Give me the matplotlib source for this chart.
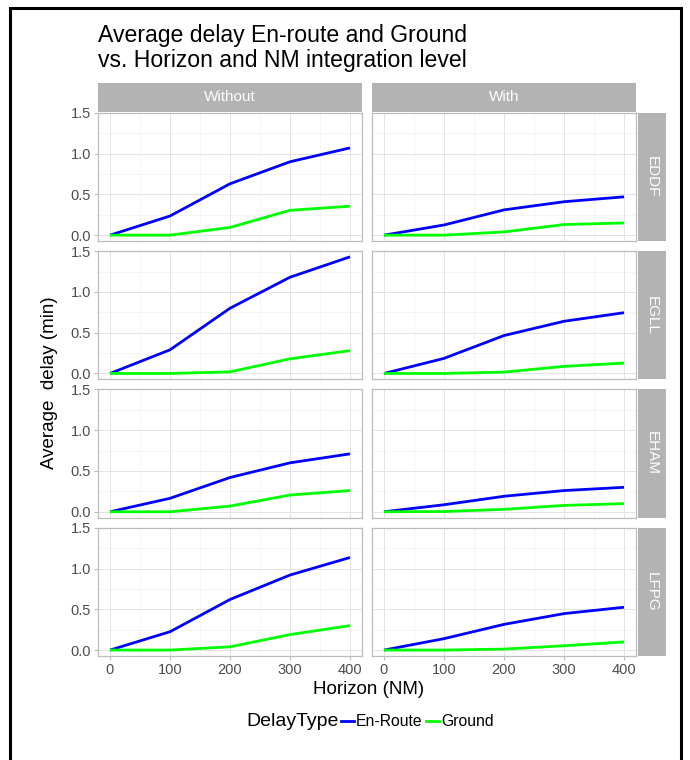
import matplotlib.pyplot as plt
from matplotlib.lines import Line2D
from matplotlib.patches import Rectangle

plt.rcParams['font.family'] = ['Liberation Sans', 'DejaVu Sans']

# --- data: average delay (min) vs. horizon (NM) ---
horizon = [0, 100, 200, 300, 400]
airports = ['EDDF', 'EGLL', 'EHAM', 'LFPG']
levels = ['Without', 'With']

eddf_enroute_without = [0.0, 0.235, 0.63, 0.90, 1.07]
eddf_ground_without = [0.0, 0.0, 0.095, 0.305, 0.355]
eddf_enroute_with = [0.0, 0.125, 0.31, 0.41, 0.47]
eddf_ground_with = [0.0, 0.0, 0.04, 0.13, 0.15]

egll_enroute_without = [0.0, 0.29, 0.80, 1.18, 1.43]
egll_ground_without = [0.0, 0.0, 0.02, 0.18, 0.28]
egll_enroute_with = [0.0, 0.185, 0.465, 0.64, 0.745]
egll_ground_with = [0.0, 0.0, 0.017, 0.087, 0.128]

eham_enroute_without = [0.0, 0.165, 0.42, 0.60, 0.71]
eham_ground_without = [0.0, 0.0, 0.07, 0.205, 0.26]
eham_enroute_with = [0.0, 0.086, 0.19, 0.26, 0.30]
eham_ground_with = [0.0, 0.003, 0.03, 0.078, 0.10]

lfpg_enroute_without = [0.0, 0.225, 0.62, 0.92, 1.135]
lfpg_ground_without = [0.0, 0.0, 0.04, 0.19, 0.30]
lfpg_enroute_with = [0.0, 0.14, 0.315, 0.447, 0.525]
lfpg_ground_with = [0.0, 0.0, 0.012, 0.053, 0.10]

delays = {
    ('EDDF', 'Without'): (eddf_enroute_without, eddf_ground_without),
    ('EDDF', 'With'): (eddf_enroute_with, eddf_ground_with),
    ('EGLL', 'Without'): (egll_enroute_without, egll_ground_without),
    ('EGLL', 'With'): (egll_enroute_with, egll_ground_with),
    ('EHAM', 'Without'): (eham_enroute_without, eham_ground_without),
    ('EHAM', 'With'): (eham_enroute_with, eham_ground_with),
    ('LFPG', 'Without'): (lfpg_enroute_without, lfpg_ground_without),
    ('LFPG', 'With'): (lfpg_enroute_with, lfpg_ground_with),
}

ENROUTE_COLOR = '#0000FF'
GROUND_COLOR = '#00FF00'
STRIP_COLOR = '#B3B3B3'
BORDER_COLOR = '#BDBDBD'
TEXT_GREY = '#4D4D4D'

W, H = 690, 760
fig = plt.figure(figsize=(W / 100, H / 100), dpi=100)


def px_axes(left, top, right, bottom, **kw):
    return fig.add_axes([left / W, 1 - bottom / H, (right - left) / W, (bottom - top) / H], **kw)


def fx(x):
    return x / W


def fy(y):
    return 1 - y / H


# shared scales with ggplot-like 5% expansion
ymax = max(max(v) for pair in delays.values() for v in pair)
ypad = 0.05 * ymax
xpad = 0.05 * (max(horizon) - min(horizon))

col_x = [(98, 362), (372, 636)]
row_top0, row_h, row_step = 112.7, 128.3, 138.3

for r, ap in enumerate(airports):
    top = row_top0 + r * row_step
    bottom = top + row_h
    for c, lvl in enumerate(levels):
        left, right = col_x[c]
        ax = px_axes(left, top, right, bottom)
        enroute, ground = delays[(ap, lvl)]
        ax.plot(horizon, enroute, color=ENROUTE_COLOR, lw=2.0, solid_capstyle='butt', zorder=3)
        ax.plot(horizon, ground, color=GROUND_COLOR, lw=2.0, solid_capstyle='butt', zorder=3)
        ax.set_xlim(min(horizon) - xpad, max(horizon) + xpad)
        ax.set_ylim(-ypad, ymax + ypad)
        ax.set_xticks([0, 100, 200, 300, 400])
        ax.set_xticks([50, 150, 250, 350], minor=True)
        ax.set_yticks([0, 0.5, 1.0, 1.5])
        ax.set_yticks([0.25, 0.75, 1.25], minor=True)
        ax.grid(which='major', color='#E3E3E3', lw=0.7)
        ax.grid(which='minor', color='#F1F1F1', lw=0.5)
        ax.set_axisbelow(True)
        for sp in ax.spines.values():
            sp.set_color(BORDER_COLOR)
            sp.set_linewidth(0.9)
        ax.tick_params(which='minor', length=0)
        ax.tick_params(which='major', color=BORDER_COLOR, length=3, width=0.8,
                       labelsize=10.5, labelcolor=TEXT_GREY, pad=2)
        if c == 0:
            ax.set_yticklabels(['0.0', '0.5', '1.0', '1.5'])
        else:
            ax.tick_params(axis='y', left=False, labelleft=False)
        if r != len(airports) - 1:
            ax.tick_params(axis='x', bottom=False, labelbottom=False)

    # airport strip on the right
    sax = px_axes(637.7, top, 666, bottom)
    sax.set_facecolor(STRIP_COLOR)
    sax.set_xticks([])
    sax.set_yticks([])
    for sp in sax.spines.values():
        sp.set_visible(False)
    sax.text(0.5, 0.5, ap, rotation=-90, ha='center', va='center', color='white',
             fontsize=11, transform=sax.transAxes)

# level strips on top
for c, lvl in enumerate(levels):
    left, right = col_x[c]
    sax = px_axes(left, 82.5, right, 111.5)
    sax.set_facecolor(STRIP_COLOR)
    sax.set_xticks([])
    sax.set_yticks([])
    for sp in sax.spines.values():
        sp.set_visible(False)
    sax.text(0.5, 0.5, lvl, ha='center', va='center', color='white', fontsize=11,
             transform=sax.transAxes)

# titles and axis labels
fig.text(fx(98), fy(24), 'Average delay En-route and Ground\nvs. Horizon and NM integration level',
         ha='left', va='top', fontsize=16.6, linespacing=1.12, color='black')
fig.text(fx(50), fy(383), 'Average  delay (min)', rotation=90, ha='center', va='center',
         fontsize=13.5, color='black')
fig.text(fx(369), fy(690), 'Horizon (NM)', ha='center', va='center', fontsize=13.5, color='black')

# legend
ly = fy(721)
fig.text(fx(246), ly, 'DelayType', ha='left', va='center', fontsize=14, color='black')
fig.add_artist(Line2D([fx(341), fx(354)], [ly, ly], color=ENROUTE_COLOR, lw=2.0,
                      transform=fig.transFigure))
fig.text(fx(356), ly, 'En-Route', ha='left', va='center', fontsize=11.3, color='black')
fig.add_artist(Line2D([fx(426), fx(439)], [ly, ly], color=GROUND_COLOR, lw=2.0,
                      transform=fig.transFigure))
fig.text(fx(441), ly, 'Ground', ha='left', va='center', fontsize=11.3, color='black')

# outer frame
fig.add_artist(Rectangle((fx(10), fy(775)), fx(681) - fx(10), fy(8) - fy(775),
                         transform=fig.transFigure, fill=False, edgecolor='black', lw=2.2))

fig.savefig('out.png', dpi=100)
